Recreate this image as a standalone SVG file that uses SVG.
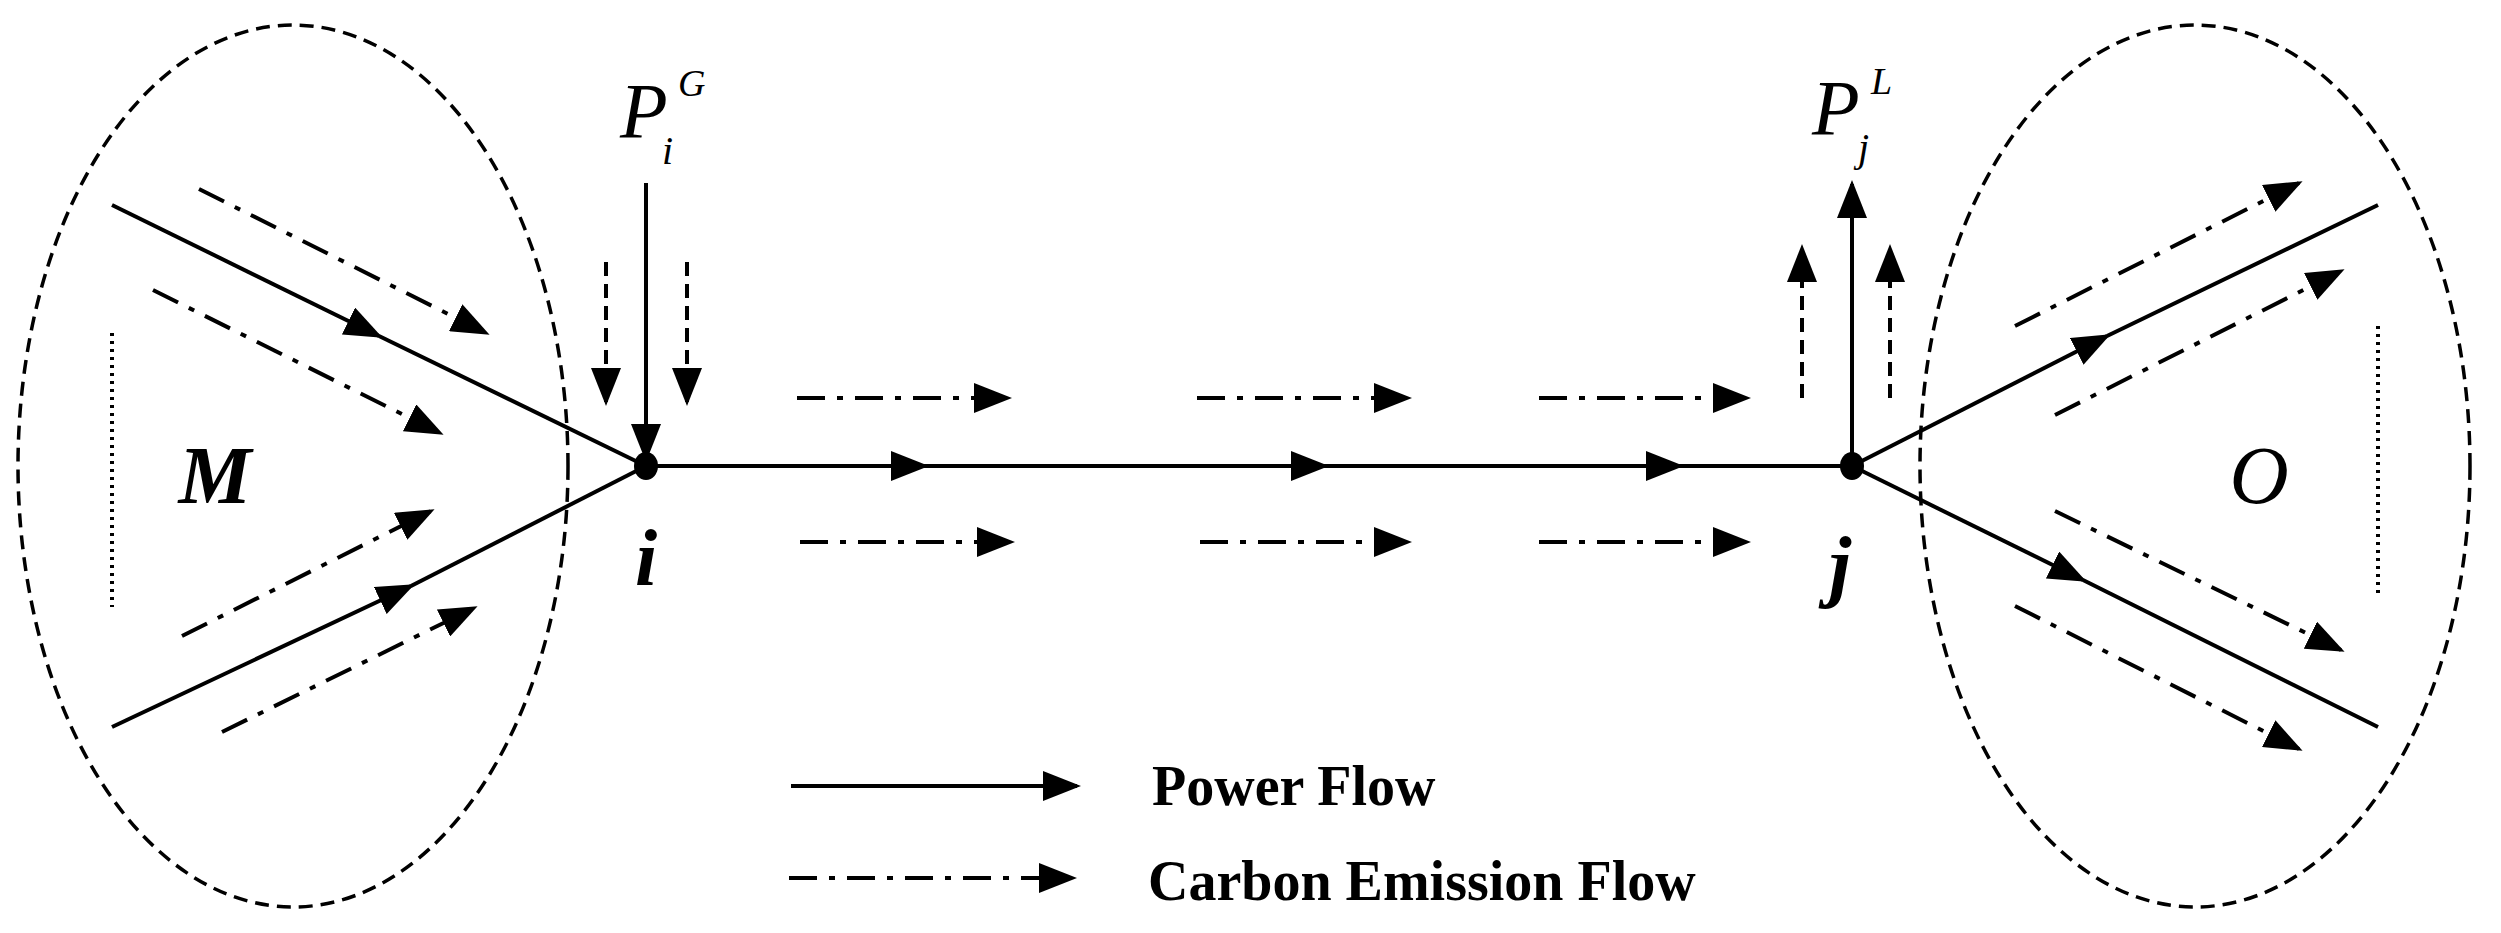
<svg xmlns="http://www.w3.org/2000/svg" width="2501" height="933" viewBox="0 0 2501 933">
<defs>
<marker id="ah" markerUnits="userSpaceOnUse" markerWidth="38" markerHeight="30" refX="34" refY="15" orient="auto"><path d="M0,0 L38,15 L0,30 z" fill="#000"/></marker>
</defs>
<style>
.s{stroke:#000;stroke-width:4;fill:none}
.dd{stroke:#000;stroke-width:4;fill:none;stroke-dasharray:28 12 6 12}
.da{stroke:#000;stroke-width:4;fill:none;stroke-dasharray:14 8}
.el{stroke:#000;stroke-width:3.5;fill:none;stroke-dasharray:14 8}
.dot{stroke:#000;stroke-width:4;fill:none;stroke-dasharray:3 5}
.t{font-family:"Liberation Serif",serif;fill:#000}
</style>
<rect width="2501" height="933" fill="#fff"/>
<g id="regionM">
<ellipse class="el" cx="293" cy="466" rx="275" ry="441"/>
<line class="dot" x1="112" y1="333" x2="112" y2="607"/>
<text class="t" x="215" y="503" font-size="82" font-weight="bold" font-style="italic" text-anchor="middle">M</text>
</g>
<g id="regionO">
<ellipse class="el" cx="2195" cy="466" rx="275" ry="441"/>
<line class="dot" x1="2378" y1="326" x2="2378" y2="598"/>
<text class="t" x="2259" y="503" font-size="82" font-style="italic" text-anchor="middle">O</text>
</g>
<g id="node-i">
<ellipse cx="646" cy="466" rx="12" ry="14" fill="#000"/>
<text class="t" x="646" y="585" font-size="80" font-weight="bold" font-style="italic" text-anchor="middle">i</text>
<text class="t" x="620" y="137" font-size="78" font-style="italic">P</text>
<text class="t" x="662" y="164" font-size="40" font-style="italic">i</text>
<text class="t" x="678" y="96" font-size="38" font-style="italic">G</text>
</g>
<g id="node-j">
<ellipse cx="1852" cy="466" rx="12" ry="14" fill="#000"/>
<text class="t" x="1840" y="592" font-size="80" font-weight="bold" font-style="italic" text-anchor="middle">j</text>
<text class="t" x="1812" y="134" font-size="78" font-style="italic">P</text>
<text class="t" x="1858" y="161" font-size="40" font-style="italic">j</text>
<text class="t" x="1871" y="94" font-size="38" font-style="italic">L</text>
</g>
<g id="legend">
<line class="s" x1="791" y1="786" x2="1077" y2="786" marker-end="url(#ah)"/>
<line class="dd" x1="789" y1="878" x2="1073" y2="878" marker-end="url(#ah)"/>
<text class="t" x="1152" y="805" font-size="56" font-weight="bold">Power Flow</text>
<text class="t" x="1148" y="900" font-size="56" font-weight="bold">Carbon Emission Flow</text>
</g>
<g id="connectors">
<line class="s" x1="646" y1="466" x2="925" y2="466" marker-end="url(#ah)"/>
<line class="s" x1="925" y1="466" x2="1325" y2="466" marker-end="url(#ah)"/>
<line class="s" x1="1325" y1="466" x2="1680" y2="466" marker-end="url(#ah)"/>
<line class="s" x1="1680" y1="466" x2="1852" y2="466"/>
<line class="s" x1="112" y1="205" x2="379" y2="336" marker-end="url(#ah)"/>
<line class="s" x1="379" y1="336" x2="646" y2="466"/>
<line class="s" x1="112" y1="727" x2="411" y2="586" marker-end="url(#ah)"/>
<line class="s" x1="411" y1="586" x2="646" y2="466"/>
<line class="s" x1="1852" y1="466" x2="2107" y2="336" marker-end="url(#ah)"/>
<line class="s" x1="2107" y1="336" x2="2378" y2="205"/>
<line class="s" x1="1852" y1="466" x2="2083" y2="580" marker-end="url(#ah)"/>
<line class="s" x1="2083" y1="580" x2="2378" y2="727"/>
<line class="s" x1="646" y1="183" x2="646" y2="458" marker-end="url(#ah)"/>
<line class="s" x1="1852" y1="466" x2="1852" y2="184" marker-end="url(#ah)"/>
<line class="da" x1="606" y1="262" x2="606" y2="402" marker-end="url(#ah)"/>
<line class="da" x1="687" y1="262" x2="687" y2="402" marker-end="url(#ah)"/>
<line class="da" x1="1802" y1="398" x2="1802" y2="248" marker-end="url(#ah)"/>
<line class="da" x1="1890" y1="398" x2="1890" y2="248" marker-end="url(#ah)"/>
<line class="dd" x1="797" y1="398" x2="1008" y2="398" marker-end="url(#ah)"/>
<line class="dd" x1="1197" y1="398" x2="1408" y2="398" marker-end="url(#ah)"/>
<line class="dd" x1="1539" y1="398" x2="1747" y2="398" marker-end="url(#ah)"/>
<line class="dd" x1="800" y1="542" x2="1011" y2="542" marker-end="url(#ah)"/>
<line class="dd" x1="1200" y1="542" x2="1408" y2="542" marker-end="url(#ah)"/>
<line class="dd" x1="1539" y1="542" x2="1747" y2="542" marker-end="url(#ah)"/>
<line class="dd" x1="199" y1="189" x2="486" y2="333" marker-end="url(#ah)"/>
<line class="dd" x1="153" y1="290" x2="440" y2="433" marker-end="url(#ah)"/>
<line class="dd" x1="182" y1="636" x2="431" y2="511" marker-end="url(#ah)"/>
<line class="dd" x1="222" y1="732" x2="474" y2="608" marker-end="url(#ah)"/>
<line class="dd" x1="2015" y1="326" x2="2299" y2="183" marker-end="url(#ah)"/>
<line class="dd" x1="2055" y1="415" x2="2341" y2="271" marker-end="url(#ah)"/>
<line class="dd" x1="2055" y1="511" x2="2341" y2="650" marker-end="url(#ah)"/>
<line class="dd" x1="2015" y1="606" x2="2299" y2="749" marker-end="url(#ah)"/>
</g>
</svg>
